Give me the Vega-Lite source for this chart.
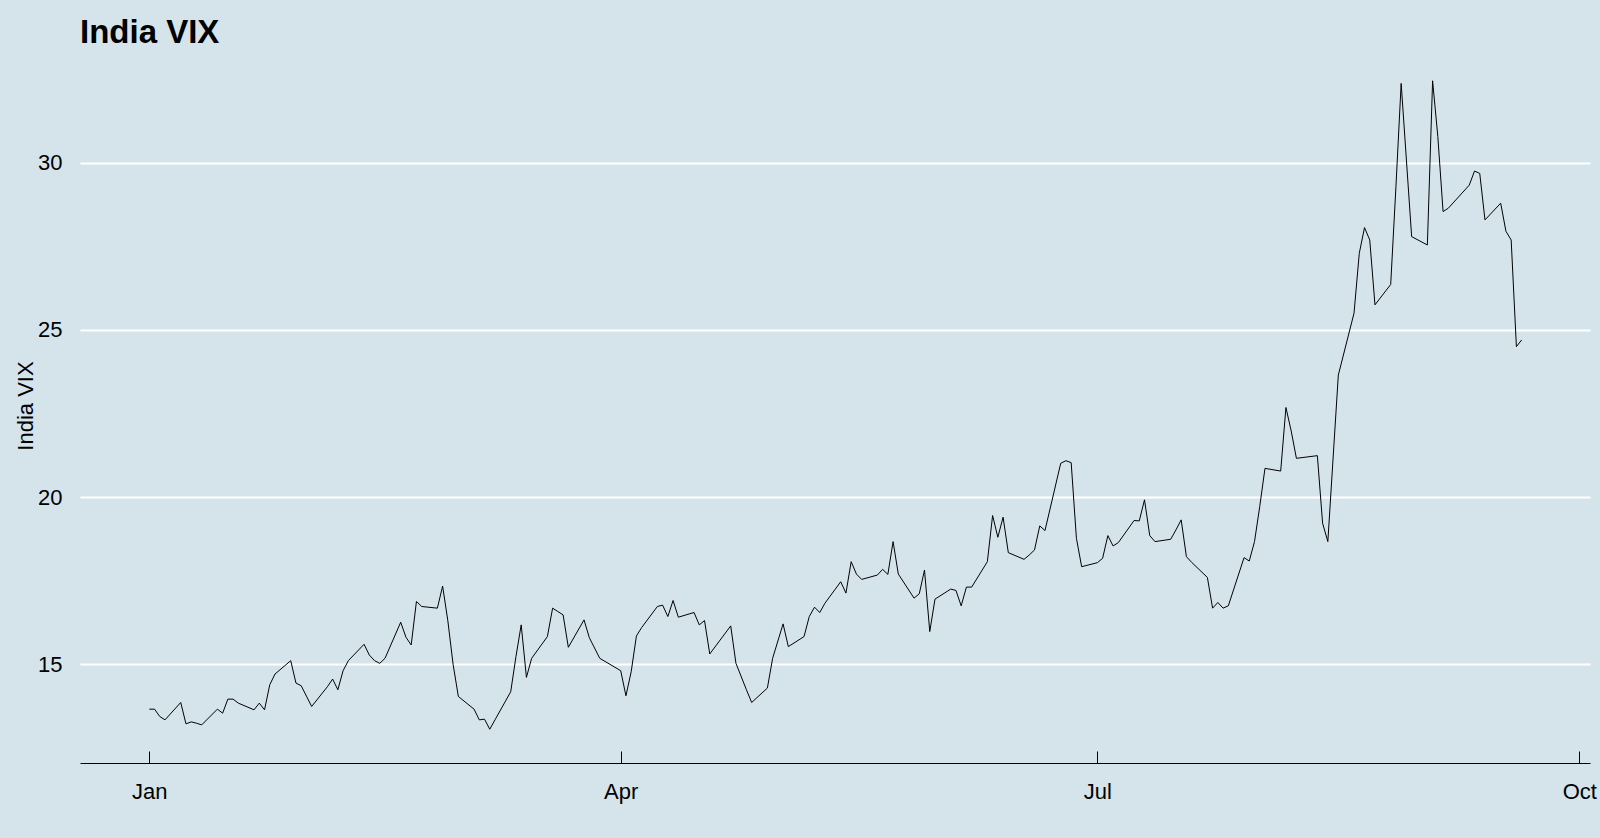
{
  "$schema": "https://vega.github.io/schema/vega-lite/v6.json",
  "width": 1510,
  "height": 715,
  "autosize": {"type": "none"},
  "padding": {"left": 80, "top": 48, "right": 10, "bottom": 75},
  "background": "#d5e4eb",
  "config": {
    "view": {"stroke": null, "fill": null},
    "font": "Liberation Sans"
  },
  "title": {
    "text": "India VIX",
    "anchor": "start",
    "frame": "group",
    "fontSize": 33,
    "font": "Liberation Sans",
    "fontWeight": "bold",
    "color": "#000000",
    "baseline": "alphabetic",
    "offset": 5,
    "dy": 33
  },
  "data": {
    "format": {"parse": {"date": "utc:'%Y-%m-%d'"}},
    "values": [
      {"date": "2013-01-01", "vix": 13.66},
      {"date": "2013-01-02", "vix": 13.66},
      {"date": "2013-01-03", "vix": 13.44},
      {"date": "2013-01-04", "vix": 13.34},
      {"date": "2013-01-07", "vix": 13.86},
      {"date": "2013-01-08", "vix": 13.22},
      {"date": "2013-01-09", "vix": 13.28},
      {"date": "2013-01-10", "vix": 13.24},
      {"date": "2013-01-11", "vix": 13.19},
      {"date": "2013-01-14", "vix": 13.66},
      {"date": "2013-01-15", "vix": 13.54},
      {"date": "2013-01-16", "vix": 13.96},
      {"date": "2013-01-17", "vix": 13.96},
      {"date": "2013-01-18", "vix": 13.84},
      {"date": "2013-01-21", "vix": 13.64},
      {"date": "2013-01-22", "vix": 13.84},
      {"date": "2013-01-23", "vix": 13.64},
      {"date": "2013-01-24", "vix": 14.39},
      {"date": "2013-01-25", "vix": 14.71},
      {"date": "2013-01-28", "vix": 15.11},
      {"date": "2013-01-29", "vix": 14.44},
      {"date": "2013-01-30", "vix": 14.36},
      {"date": "2013-01-31", "vix": 14.05},
      {"date": "2013-02-01", "vix": 13.74},
      {"date": "2013-02-04", "vix": 14.33},
      {"date": "2013-02-05", "vix": 14.56},
      {"date": "2013-02-06", "vix": 14.24},
      {"date": "2013-02-07", "vix": 14.81},
      {"date": "2013-02-08", "vix": 15.11},
      {"date": "2013-02-11", "vix": 15.60},
      {"date": "2013-02-12", "vix": 15.28},
      {"date": "2013-02-13", "vix": 15.11},
      {"date": "2013-02-14", "vix": 15.03},
      {"date": "2013-02-15", "vix": 15.18},
      {"date": "2013-02-18", "vix": 16.26},
      {"date": "2013-02-19", "vix": 15.81},
      {"date": "2013-02-20", "vix": 15.58},
      {"date": "2013-02-21", "vix": 16.88},
      {"date": "2013-02-22", "vix": 16.73},
      {"date": "2013-02-25", "vix": 16.68},
      {"date": "2013-02-26", "vix": 17.34},
      {"date": "2013-02-27", "vix": 16.30},
      {"date": "2013-02-28", "vix": 15.00},
      {"date": "2013-03-01", "vix": 14.04},
      {"date": "2013-03-04", "vix": 13.66},
      {"date": "2013-03-05", "vix": 13.34},
      {"date": "2013-03-06", "vix": 13.36},
      {"date": "2013-03-07", "vix": 13.06},
      {"date": "2013-03-08", "vix": 13.34},
      {"date": "2013-03-11", "vix": 14.18},
      {"date": "2013-03-12", "vix": 15.23},
      {"date": "2013-03-13", "vix": 16.18},
      {"date": "2013-03-14", "vix": 14.61},
      {"date": "2013-03-15", "vix": 15.18},
      {"date": "2013-03-18", "vix": 15.83},
      {"date": "2013-03-19", "vix": 16.68},
      {"date": "2013-03-20", "vix": 16.58},
      {"date": "2013-03-21", "vix": 16.48},
      {"date": "2013-03-22", "vix": 15.51},
      {"date": "2013-03-25", "vix": 16.33},
      {"date": "2013-03-26", "vix": 15.80},
      {"date": "2013-03-28", "vix": 15.18},
      {"date": "2013-04-01", "vix": 14.81},
      {"date": "2013-04-02", "vix": 14.06},
      {"date": "2013-04-03", "vix": 14.78},
      {"date": "2013-04-04", "vix": 15.85},
      {"date": "2013-04-05", "vix": 16.10},
      {"date": "2013-04-08", "vix": 16.73},
      {"date": "2013-04-09", "vix": 16.77},
      {"date": "2013-04-10", "vix": 16.43},
      {"date": "2013-04-11", "vix": 16.91},
      {"date": "2013-04-12", "vix": 16.41},
      {"date": "2013-04-15", "vix": 16.55},
      {"date": "2013-04-16", "vix": 16.18},
      {"date": "2013-04-17", "vix": 16.31},
      {"date": "2013-04-18", "vix": 15.31},
      {"date": "2013-04-22", "vix": 16.15},
      {"date": "2013-04-23", "vix": 15.03},
      {"date": "2013-04-25", "vix": 14.24},
      {"date": "2013-04-26", "vix": 13.86},
      {"date": "2013-04-29", "vix": 14.29},
      {"date": "2013-04-30", "vix": 15.18},
      {"date": "2013-05-02", "vix": 16.21},
      {"date": "2013-05-03", "vix": 15.53},
      {"date": "2013-05-06", "vix": 15.83},
      {"date": "2013-05-07", "vix": 16.43},
      {"date": "2013-05-08", "vix": 16.71},
      {"date": "2013-05-09", "vix": 16.55},
      {"date": "2013-05-10", "vix": 16.83},
      {"date": "2013-05-13", "vix": 17.47},
      {"date": "2013-05-14", "vix": 17.13},
      {"date": "2013-05-15", "vix": 18.07},
      {"date": "2013-05-16", "vix": 17.70},
      {"date": "2013-05-17", "vix": 17.54},
      {"date": "2013-05-20", "vix": 17.67},
      {"date": "2013-05-21", "vix": 17.84},
      {"date": "2013-05-22", "vix": 17.69},
      {"date": "2013-05-23", "vix": 18.67},
      {"date": "2013-05-24", "vix": 17.70},
      {"date": "2013-05-27", "vix": 16.98},
      {"date": "2013-05-28", "vix": 17.11},
      {"date": "2013-05-29", "vix": 17.82},
      {"date": "2013-05-30", "vix": 15.98},
      {"date": "2013-05-31", "vix": 16.95},
      {"date": "2013-06-03", "vix": 17.25},
      {"date": "2013-06-04", "vix": 17.21},
      {"date": "2013-06-05", "vix": 16.75},
      {"date": "2013-06-06", "vix": 17.31},
      {"date": "2013-06-07", "vix": 17.31},
      {"date": "2013-06-10", "vix": 18.07},
      {"date": "2013-06-11", "vix": 19.45},
      {"date": "2013-06-12", "vix": 18.80},
      {"date": "2013-06-13", "vix": 19.40},
      {"date": "2013-06-14", "vix": 18.34},
      {"date": "2013-06-17", "vix": 18.14},
      {"date": "2013-06-18", "vix": 18.27},
      {"date": "2013-06-19", "vix": 18.42},
      {"date": "2013-06-20", "vix": 19.14},
      {"date": "2013-06-21", "vix": 19.00},
      {"date": "2013-06-24", "vix": 21.01},
      {"date": "2013-06-25", "vix": 21.09},
      {"date": "2013-06-26", "vix": 21.03},
      {"date": "2013-06-27", "vix": 18.77},
      {"date": "2013-06-28", "vix": 17.92},
      {"date": "2013-07-01", "vix": 18.04},
      {"date": "2013-07-02", "vix": 18.17},
      {"date": "2013-07-03", "vix": 18.85},
      {"date": "2013-07-04", "vix": 18.54},
      {"date": "2013-07-05", "vix": 18.64},
      {"date": "2013-07-08", "vix": 19.30},
      {"date": "2013-07-09", "vix": 19.29},
      {"date": "2013-07-10", "vix": 19.92},
      {"date": "2013-07-11", "vix": 18.85},
      {"date": "2013-07-12", "vix": 18.67},
      {"date": "2013-07-15", "vix": 18.74},
      {"date": "2013-07-16", "vix": 19.02},
      {"date": "2013-07-17", "vix": 19.32},
      {"date": "2013-07-18", "vix": 18.22},
      {"date": "2013-07-19", "vix": 18.05},
      {"date": "2013-07-22", "vix": 17.60},
      {"date": "2013-07-23", "vix": 16.68},
      {"date": "2013-07-24", "vix": 16.85},
      {"date": "2013-07-25", "vix": 16.68},
      {"date": "2013-07-26", "vix": 16.75},
      {"date": "2013-07-29", "vix": 18.19},
      {"date": "2013-07-30", "vix": 18.09},
      {"date": "2013-07-31", "vix": 18.67},
      {"date": "2013-08-01", "vix": 19.72},
      {"date": "2013-08-02", "vix": 20.86},
      {"date": "2013-08-05", "vix": 20.78},
      {"date": "2013-08-06", "vix": 22.68},
      {"date": "2013-08-07", "vix": 21.98},
      {"date": "2013-08-08", "vix": 21.16},
      {"date": "2013-08-12", "vix": 21.24},
      {"date": "2013-08-13", "vix": 19.22},
      {"date": "2013-08-14", "vix": 18.67},
      {"date": "2013-08-16", "vix": 23.65},
      {"date": "2013-08-19", "vix": 25.50},
      {"date": "2013-08-20", "vix": 27.29},
      {"date": "2013-08-21", "vix": 28.06},
      {"date": "2013-08-22", "vix": 27.69},
      {"date": "2013-08-23", "vix": 25.75},
      {"date": "2013-08-26", "vix": 26.36},
      {"date": "2013-08-27", "vix": 29.28},
      {"date": "2013-08-28", "vix": 32.37},
      {"date": "2013-08-29", "vix": 30.08},
      {"date": "2013-08-30", "vix": 27.79},
      {"date": "2013-09-02", "vix": 27.54},
      {"date": "2013-09-03", "vix": 32.45},
      {"date": "2013-09-04", "vix": 30.78},
      {"date": "2013-09-05", "vix": 28.54},
      {"date": "2013-09-06", "vix": 28.64},
      {"date": "2013-09-10", "vix": 29.33},
      {"date": "2013-09-11", "vix": 29.75},
      {"date": "2013-09-12", "vix": 29.68},
      {"date": "2013-09-13", "vix": 28.29},
      {"date": "2013-09-16", "vix": 28.79},
      {"date": "2013-09-17", "vix": 27.95},
      {"date": "2013-09-18", "vix": 27.69},
      {"date": "2013-09-19", "vix": 24.50},
      {"date": "2013-09-20", "vix": 24.70}
    ]
  },
  "mark": {"type": "line", "color": "#000000", "strokeWidth": 1, "interpolate": "linear"},
  "encoding": {
    "x": {
      "field": "date",
      "type": "temporal",
      "scale": {
        "type": "utc",
        "domain": [
          {"year": 2012, "month": 12, "date": 18, "hours": 18, "minutes": 30, "utc": true},
          {"year": 2013, "month": 10, "date": 3, "hours": 1, "minutes": 12, "utc": true}
        ],
        "nice": false
      },
      "axis": {
        "title": null,
        "values": [
          {"year": 2013, "month": 1, "date": 1, "utc": true},
          {"year": 2013, "month": 4, "date": 1, "utc": true},
          {"year": 2013, "month": 7, "date": 1, "utc": true},
          {"year": 2013, "month": 10, "date": 1, "utc": true}
        ],
        "labelExpr": "utcFormat(datum.value, '%b')",
        "grid": false,
        "domain": true,
        "domainColor": "#000000",
        "domainWidth": 1,
        "ticks": true,
        "tickColor": "#000000",
        "tickWidth": 1,
        "tickSize": -12,
        "labelFont": "Liberation Sans",
        "labelFontSize": 22,
        "labelColor": "#000000",
        "labelPadding": 30,
        "labelFlush": false,
        "labelOverlap": false
      }
    },
    "y": {
      "field": "vix",
      "type": "quantitative",
      "scale": {"domain": [12.05, 33.43], "nice": false, "zero": false},
      "axis": {
        "title": "India VIX",
        "titleFont": "Liberation Sans",
        "titleFontSize": 22,
        "titleFontWeight": "normal",
        "titleColor": "#000000",
        "titlePadding": 0,
        "values": [15, 20, 25, 30],
        "domain": false,
        "ticks": false,
        "grid": true,
        "gridColor": "#ffffff",
        "gridWidth": 2,
        "labelFont": "Liberation Sans",
        "labelFontSize": 22,
        "labelColor": "#000000",
        "labelPadding": 18
      }
    }
  }
}
